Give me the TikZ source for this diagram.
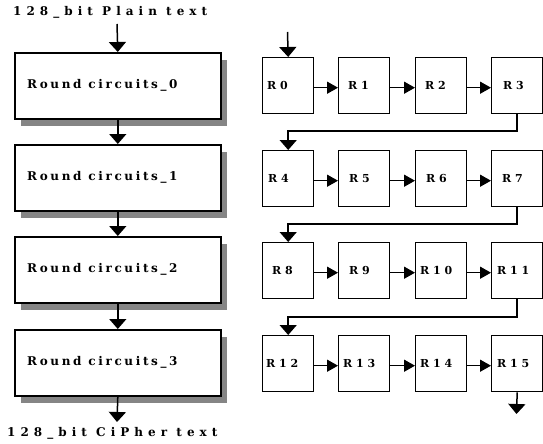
\documentclass[tikz,border=0pt]{standalone}
\usepackage{fontspec}
\setmainfont{DejaVu Serif}
\newfontfamily\captionfont[LetterSpace=42]{DejaVu Serif}
\newfontfamily\boxfont[LetterSpace=22]{DejaVu Serif}
\newfontfamily\roundfont[LetterSpace=35]{DejaVu Serif}
\usetikzlibrary{arrows.meta,shadows}

\begin{document}
\begin{tikzpicture}[x=1pt,y=-1pt,
  bigbox/.style={draw=black, line width=1.6pt, fill=white, anchor=north west,
    minimum width=206pt, minimum height=66pt, inner sep=0pt,
    drop shadow={shadow xshift=6pt, shadow yshift=-7pt, fill=black!48, opacity=1}},
  boxtext/.style={anchor=west, inner sep=0pt, font=\boxfont\bfseries\fontsize{12}{12}\selectfont},
  rbox/.style={draw=black, line width=1.4pt, fill=white, anchor=north west,
    minimum width=51pt, minimum height=56pt, inner sep=0pt},
  rtext/.style={anchor=west, inner sep=0pt, font=\roundfont\bfseries\fontsize{11}{11}\selectfont},
  caption/.style={anchor=west, inner sep=0pt, font=\captionfont\bfseries\fontsize{12}{12}\selectfont},
  darr/.style={line width=1.5pt, -{Triangle[width=17pt,length=10pt]}},
  harr/.style={line width=1.5pt, -{Triangle[width=12pt,length=11pt]}},
]
\useasboundingbox (0,0) rectangle (543,444);

% ---- left column: round circuits ----
\node[caption] (plain) at (13,12) {128\_bit Plain text};
\node[bigbox] (C0) at (14,52)  {\phantom{R}};
\node[bigbox] (C1) at (14,144) {\phantom{R}};
\node[bigbox] (C2) at (14,236) {\phantom{R}};
\node[bigbox] (C3) at (14,329) {\phantom{R}};
\node[boxtext] (T0) at ([xshift=13pt]C0.west) {Round circuits\_0};
\node[boxtext] (T1) at ([xshift=13pt]C1.west) {Round circuits\_1};
\node[boxtext] (T2) at ([xshift=13pt]C2.west) {Round circuits\_2};
\node[boxtext] (T3) at ([xshift=13pt]C3.west) {Round circuits\_3};
\node[caption] (cipher) at (7,433) {128\_bit CiPher text};

\coordinate (cin) at (117,24);
\coordinate (cout) at (117,422);
\draw[darr] (cin) -- (C0.north);
\draw[darr] (C0.south) -- (C1.north);
\draw[darr] (C1.south) -- (C2.north);
\draw[darr] (C2.south) -- (C3.north);
\draw[darr] (C3.south) -- (cout);

% ---- right column: sixteen rounds ----
\foreach \r/\x/\y/\dx in {0/262/57/5, 1/338/57/10, 2/415/57/10, 3/491/57/12,
                          4/262/150/6, 5/338/150/11, 6/415/150/11, 7/491/150/11,
                          8/262/242/10, 9/338/242/11, 10/415/242/5, 11/491/242/6,
                          12/262/335/4, 13/338/335/5, 14/415/335/5, 15/491/335/6}{
  \node[rbox] (R\r) at (\x,\y) {};
  \node[rtext] (L\r) at ([xshift=\dx pt]R\r.west) {R\r};
}

\foreach \a/\b in {0/1,1/2,2/3,4/5,5/6,6/7,8/9,9/10,10/11,12/13,13/14,14/15}{
  \draw[harr] ([yshift=-2pt]R\a.east) -- ([yshift=-2pt]R\b.west);
}

\coordinate (rin) at (287.5,32);
\coordinate (rout) at (516.5,414);
\coordinate (m1) at (0,131);
\coordinate (m2) at (0,224);
\coordinate (m3) at (0,317);
\draw[darr] (rin) -- (R0.north);
\draw[darr] (R3.south) -- (R3.south |- m1) -| (R4.north);
\draw[darr] (R7.south) -- (R7.south |- m2) -| (R8.north);
\draw[darr] (R11.south) -- (R11.south |- m3) -| (R12.north);
\draw[darr] (R15.south) -- (rout);
\end{tikzpicture}
\end{document}
